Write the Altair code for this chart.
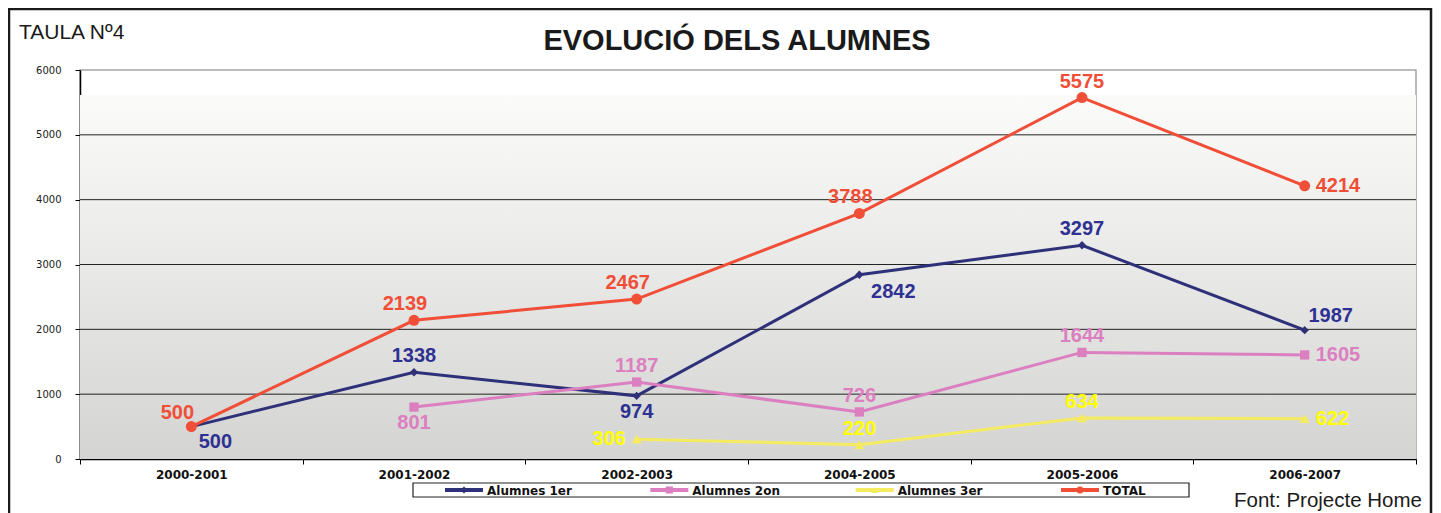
import altair as alt
import pandas as pd

# ---------------- data ----------------
categories = ["2000-2001", "2001-2002", "2002-2003", "2004-2005", "2005-2006", "2006-2007"]
series_names = ["Alumnes 1er", "Alumnes 2on", "Alumnes 3er", "TOTAL"]
alumnes_1er = [500, 1338, 974, 2842, 3297, 1987]
alumnes_2on = [None, 801, 1187, 726, 1644, 1605]
alumnes_3er = [None, None, 306, 220, 634, 622]
total = [500, 2139, 2467, 3788, 5575, 4214]
y_ticks = [0, 1000, 2000, 3000, 4000, 5000, 6000]
grid_values = [1000, 2000, 3000, 4000, 5000]

# ---------------- style ----------------
line_colors = ["#2e3179", "#dc7fc0", "#f5eb61", "#f04e37"]
label_colors = ["#2e3192", "#dc7fc0", "#ffff00", "#f04e37"]
shapes = ["diamond", "square", "triangle-up", "circle"]
sizes = [70, 120, 90, 140]
placements = {
    "Alumnes 1er": ["below_right", "above", "below", "below_right2", "above", "above_right"],
    "Alumnes 2on": [None, "below", "above", "above", "above", "right"],
    "Alumnes 3er": [None, None, "left", "above", "above", "right"],
    "TOTAL": ["above_left", "above_l", "above_l", "above_l", "above", "right"],
}
offsets = {
    "above": (0, -16, "center"),
    "above_l": (-9, -16, "center"),
    "below": (0, 16, "center"),
    "right": (11, 0, "left"),
    "left": (-11, 0, "right"),
    "above_left": (-14, -14, "center"),
    "below_right": (24, 15, "center"),
    "below_right2": (34, 17, "center"),
    "above_right": (26, -14, "center"),
}

W, H = 1336, 389

values_by_series = [alumnes_1er, alumnes_2on, alumnes_3er, total]
rows = []
for s, vals, lc in zip(series_names, values_by_series, label_colors):
    for i, (c, v) in enumerate(zip(categories, vals)):
        if v is None:
            continue
        rows.append({"period": c, "series": s, "value": v, "lcolor": lc,
                     "place": placements[s][i]})
df = pd.DataFrame(rows)

color_scale = alt.Scale(domain=series_names, range=line_colors)
shape_scale = alt.Scale(domain=series_names, range=shapes)
size_scale = alt.Scale(domain=series_names, range=sizes)
y_scale = alt.Scale(domain=[0, 6000], nice=False, zero=True)
x_scale = alt.Scale(domain=categories, type="band", paddingInner=0, paddingOuter=0)

y_axis = alt.Axis(values=y_ticks, format="d", grid=False, domainColor="black", domainWidth=1.5,
                  tickColor="black", tickSize=5, labelFont="DejaVu Sans",
                  labelFontSize=10, labelPadding=14, labelColor="#222", title=None)
x_axis = alt.Axis(tickBand="extent", grid=False, domainColor="black", domainWidth=1.5,
                  tickColor="black", tickSize=5, labelFont="DejaVu Sans",
                  labelFontWeight="bold", labelFontSize=12, labelPadding=5,
                  labelAngle=0, labelColor="#111", title=None)

one = pd.DataFrame({"k": [0]})

# background gradient
background = alt.Chart(one).mark_rect(
    fill=alt.Gradient(gradient="linear", x1=0, x2=0, y1=0, y2=1,
                      stops=[alt.GradientStop(color="#fbfbfa", offset=0),
                             alt.GradientStop(color="#d4d4d2", offset=1)])
).encode(x=alt.value(0), x2=alt.value(W), y=alt.value(25), y2=alt.value(H))

grid = alt.Chart(pd.DataFrame({"g": grid_values})).mark_rule(
    color="#222", strokeWidth=1
).encode(y=alt.Y("g:Q", scale=y_scale, axis=y_axis))

x_enc_axis = alt.X("period:N", scale=x_scale, sort=categories, axis=x_axis, bandPosition=0.5)
x_enc = alt.X("period:N", scale=x_scale, sort=categories, axis=None, bandPosition=0.5)
y_enc = alt.Y("value:Q", scale=y_scale, axis=y_axis)

lines = alt.Chart(df).mark_line(strokeWidth=3).encode(
    x=x_enc_axis, y=y_enc,
    color=alt.Color("series:N", scale=color_scale, legend=None),
)

points = alt.Chart(df).mark_point(filled=True, opacity=1).encode(
    x=x_enc, y=y_enc,
    color=alt.Color("series:N", scale=color_scale, legend=None),
    shape=alt.Shape("series:N", scale=shape_scale, legend=None),
    size=alt.Size("series:N", scale=size_scale, legend=None),
)

label_layers = []
for key, (dx, dy, align) in offsets.items():
    label_layers.append(
        alt.Chart(df).transform_filter(alt.datum.place == key).mark_text(
            dx=dx, dy=dy, align=align, baseline="middle", font="Liberation Sans",
            fontWeight="bold", fontSize=20
        ).encode(x=x_enc, y=y_enc, text=alt.Text("value:Q", format="d"),
                 color=alt.Color("lcolor:N", scale=None))
    )

# legend (drawn as marks on its own scale)
leg_df = pd.DataFrame({"series": series_names})
leg_x = alt.X("series:N", sort=series_names,
              scale=alt.Scale(domain=series_names, type="point", range=[384, 1000], padding=0),
              axis=None)
leg_box = alt.Chart(one).mark_rect(fill="white", stroke="#222", strokeWidth=1.2).encode(
    x=alt.value(333), x2=alt.value(1109), y=alt.value(413), y2=alt.value(427))
leg_line = alt.Chart(leg_df).mark_point(shape="stroke", size=38 * 38, strokeWidth=4,
                                         opacity=1).encode(
    x=leg_x, y=alt.value(420),
    color=alt.Color("series:N", scale=color_scale, legend=None))
leg_mark = alt.Chart(leg_df).mark_point(filled=True, opacity=1, size=50).encode(
    x=leg_x, y=alt.value(420),
    color=alt.Color("series:N", scale=color_scale, legend=None),
    shape=alt.Shape("series:N", scale=shape_scale, legend=None))
leg_text = alt.Chart(leg_df).mark_text(align="left", baseline="middle", dx=23,
                                        font="DejaVu Sans", fontWeight="bold",
                                        fontSize=12, color="#111").encode(
    x=leg_x, y=alt.value(420.5), text="series:N")

# texts
t_main = alt.Chart(pd.DataFrame({"t": ["EVOLUCIÓ DELS ALUMNES"]})).mark_text(
    font="Liberation Sans", fontWeight="bold", fontSize=29, color="#1a1a1a",
    align="center", baseline="middle").encode(
    text="t:N", x=alt.value(657), y=alt.value(-29))
t_taula = alt.Chart(pd.DataFrame({"t": ["TAULA Nº4"]})).mark_text(
    font="Liberation Sans", fontSize=21, color="#1a1a1a",
    align="left", baseline="middle").encode(
    text="t:N", x=alt.value(-61), y=alt.value(-37))
t_font = alt.Chart(pd.DataFrame({"t": ["Font: Projecte Home"]})).mark_text(
    font="Liberation Sans", fontSize=20.5, color="#1a1a1a",
    align="right", baseline="middle").encode(
    text="t:N", x=alt.value(1342), y=alt.value(431))

frame = alt.Chart(one).mark_rect(fillOpacity=0, stroke="#1a1a1a", strokeWidth=2.5).encode(
    x=alt.value(-71), x2=alt.value(1351), y=alt.value(-61), y2=alt.value(470))

chart = alt.layer(
    background, grid, lines, points, *label_layers,
    leg_box, leg_line, leg_mark, leg_text,
    t_main, t_taula, t_font, frame
).resolve_scale(x="independent").properties(
    width=W, height=H,
    padding={"left": 72, "top": 62, "right": 17, "bottom": 54},
    autosize=alt.AutoSizeParams(type="none"),
    background="white",
).configure_view(stroke="#a6a6a6", strokeWidth=1.5)

chart.save("out.html", embed_options={"renderer": "svg", "actions": False})
